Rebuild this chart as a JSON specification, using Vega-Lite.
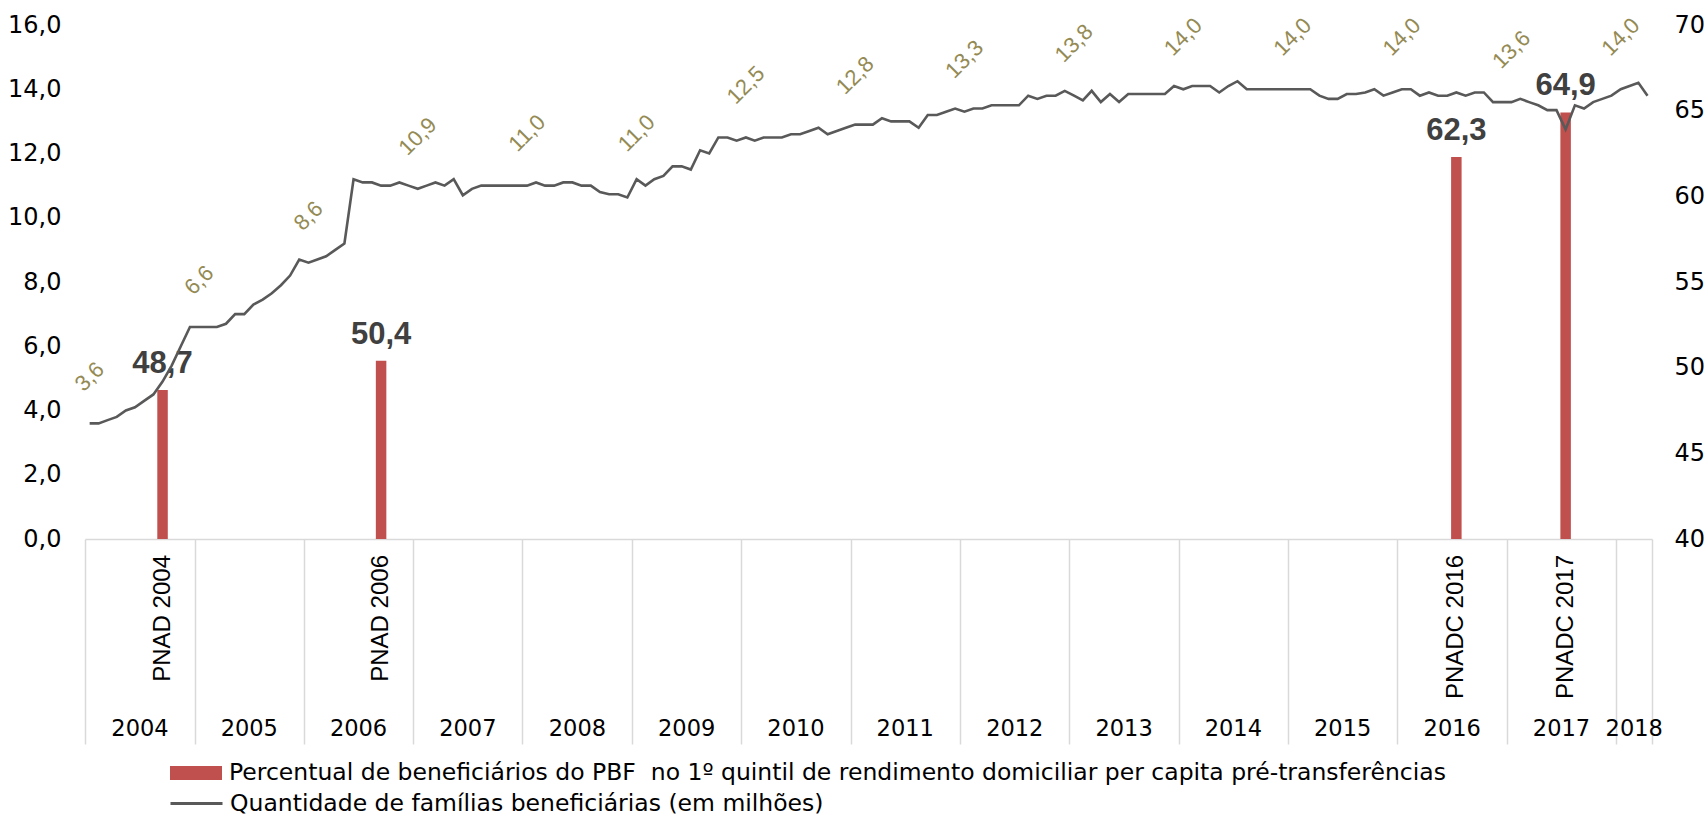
{
  "$schema": "https://vega.github.io/schema/vega-lite/v6.json",
  "width": 1567,
  "height": 514,
  "autosize": {"type": "none"},
  "padding": {"left": 85, "top": 25, "right": 56, "bottom": 278},
  "background": "white",
  "config": {
    "view": {"stroke": null},
    "font": "DejaVu Sans",
    "locale": {"number": {"decimal": ",", "thousands": ".", "grouping": [3], "currency": ["R$", ""]}},
    "axis": {"labelFont": "DejaVu Sans", "labelFontSize": 24, "labelColor": "#000000", "grid": false, "title": null},
    "legend": {"labelFont": "DejaVu Sans", "labelFontSize": 23.5, "labelColor": "#000000", "labelLimit": 2000, "padding": 0, "title": null}
  },
  "datasets": {
    "familias": [
      {"mes":"2004-01","fam":3.6},{"mes":"2004-02","fam":3.6},{"mes":"2004-03","fam":3.7},{"mes":"2004-04","fam":3.8},{"mes":"2004-05","fam":4.0},{"mes":"2004-06","fam":4.1},{"mes":"2004-07","fam":4.3},{"mes":"2004-08","fam":4.5},{"mes":"2004-09","fam":4.9},{"mes":"2004-10","fam":5.4},{"mes":"2004-11","fam":6.0},{"mes":"2004-12","fam":6.6},
      {"mes":"2005-01","fam":6.6},{"mes":"2005-02","fam":6.6},{"mes":"2005-03","fam":6.6},{"mes":"2005-04","fam":6.7},{"mes":"2005-05","fam":7.0},{"mes":"2005-06","fam":7.0},{"mes":"2005-07","fam":7.3},{"mes":"2005-08","fam":7.45},{"mes":"2005-09","fam":7.65},{"mes":"2005-10","fam":7.9},{"mes":"2005-11","fam":8.2},{"mes":"2005-12","fam":8.7},
      {"mes":"2006-01","fam":8.6},{"mes":"2006-02","fam":8.7},{"mes":"2006-03","fam":8.8},{"mes":"2006-04","fam":9.0},{"mes":"2006-05","fam":9.2},{"mes":"2006-06","fam":11.2},{"mes":"2006-07","fam":11.1},{"mes":"2006-08","fam":11.1},{"mes":"2006-09","fam":11.0},{"mes":"2006-10","fam":11.0},{"mes":"2006-11","fam":11.1},{"mes":"2006-12","fam":11.0},
      {"mes":"2007-01","fam":10.9},{"mes":"2007-02","fam":11.0},{"mes":"2007-03","fam":11.1},{"mes":"2007-04","fam":11.0},{"mes":"2007-05","fam":11.2},{"mes":"2007-06","fam":10.7},{"mes":"2007-07","fam":10.9},{"mes":"2007-08","fam":11.0},{"mes":"2007-09","fam":11.0},{"mes":"2007-10","fam":11.0},{"mes":"2007-11","fam":11.0},{"mes":"2007-12","fam":11.0},
      {"mes":"2008-01","fam":11.0},{"mes":"2008-02","fam":11.1},{"mes":"2008-03","fam":11.0},{"mes":"2008-04","fam":11.0},{"mes":"2008-05","fam":11.1},{"mes":"2008-06","fam":11.1},{"mes":"2008-07","fam":11.0},{"mes":"2008-08","fam":11.0},{"mes":"2008-09","fam":10.8},{"mes":"2008-10","fam":10.73},{"mes":"2008-11","fam":10.73},{"mes":"2008-12","fam":10.63},
      {"mes":"2009-01","fam":11.2},{"mes":"2009-02","fam":11.0},{"mes":"2009-03","fam":11.2},{"mes":"2009-04","fam":11.3},{"mes":"2009-05","fam":11.6},{"mes":"2009-06","fam":11.6},{"mes":"2009-07","fam":11.5},{"mes":"2009-08","fam":12.1},{"mes":"2009-09","fam":12.0},{"mes":"2009-10","fam":12.5},{"mes":"2009-11","fam":12.5},{"mes":"2009-12","fam":12.4},
      {"mes":"2010-01","fam":12.5},{"mes":"2010-02","fam":12.4},{"mes":"2010-03","fam":12.5},{"mes":"2010-04","fam":12.5},{"mes":"2010-05","fam":12.5},{"mes":"2010-06","fam":12.6},{"mes":"2010-07","fam":12.6},{"mes":"2010-08","fam":12.7},{"mes":"2010-09","fam":12.8},{"mes":"2010-10","fam":12.6},{"mes":"2010-11","fam":12.7},{"mes":"2010-12","fam":12.8},
      {"mes":"2011-01","fam":12.9},{"mes":"2011-02","fam":12.9},{"mes":"2011-03","fam":12.9},{"mes":"2011-04","fam":13.1},{"mes":"2011-05","fam":13.0},{"mes":"2011-06","fam":13.0},{"mes":"2011-07","fam":13.0},{"mes":"2011-08","fam":12.8},{"mes":"2011-09","fam":13.2},{"mes":"2011-10","fam":13.2},{"mes":"2011-11","fam":13.3},{"mes":"2011-12","fam":13.4},
      {"mes":"2012-01","fam":13.3},{"mes":"2012-02","fam":13.4},{"mes":"2012-03","fam":13.4},{"mes":"2012-04","fam":13.5},{"mes":"2012-05","fam":13.5},{"mes":"2012-06","fam":13.5},{"mes":"2012-07","fam":13.5},{"mes":"2012-08","fam":13.8},{"mes":"2012-09","fam":13.7},{"mes":"2012-10","fam":13.8},{"mes":"2012-11","fam":13.8},{"mes":"2012-12","fam":13.95},
      {"mes":"2013-01","fam":13.8},{"mes":"2013-02","fam":13.65},{"mes":"2013-03","fam":13.95},{"mes":"2013-04","fam":13.6},{"mes":"2013-05","fam":13.85},{"mes":"2013-06","fam":13.6},{"mes":"2013-07","fam":13.85},{"mes":"2013-08","fam":13.85},{"mes":"2013-09","fam":13.85},{"mes":"2013-10","fam":13.85},{"mes":"2013-11","fam":13.85},{"mes":"2013-12","fam":14.1},
      {"mes":"2014-01","fam":14.0},{"mes":"2014-02","fam":14.1},{"mes":"2014-03","fam":14.1},{"mes":"2014-04","fam":14.1},{"mes":"2014-05","fam":13.9},{"mes":"2014-06","fam":14.1},{"mes":"2014-07","fam":14.25},{"mes":"2014-08","fam":14.0},{"mes":"2014-09","fam":14.0},{"mes":"2014-10","fam":14.0},{"mes":"2014-11","fam":14.0},{"mes":"2014-12","fam":14.0},
      {"mes":"2015-01","fam":14.0},{"mes":"2015-02","fam":14.0},{"mes":"2015-03","fam":14.0},{"mes":"2015-04","fam":13.8},{"mes":"2015-05","fam":13.7},{"mes":"2015-06","fam":13.7},{"mes":"2015-07","fam":13.85},{"mes":"2015-08","fam":13.85},{"mes":"2015-09","fam":13.9},{"mes":"2015-10","fam":14.0},{"mes":"2015-11","fam":13.8},{"mes":"2015-12","fam":13.9},
      {"mes":"2016-01","fam":14.0},{"mes":"2016-02","fam":14.0},{"mes":"2016-03","fam":13.8},{"mes":"2016-04","fam":13.9},{"mes":"2016-05","fam":13.8},{"mes":"2016-06","fam":13.8},{"mes":"2016-07","fam":13.9},{"mes":"2016-08","fam":13.8},{"mes":"2016-09","fam":13.9},{"mes":"2016-10","fam":13.9},{"mes":"2016-11","fam":13.6},{"mes":"2016-12","fam":13.6},
      {"mes":"2017-01","fam":13.6},{"mes":"2017-02","fam":13.7},{"mes":"2017-03","fam":13.6},{"mes":"2017-04","fam":13.5},{"mes":"2017-05","fam":13.35},{"mes":"2017-06","fam":13.35},{"mes":"2017-07","fam":12.75},{"mes":"2017-08","fam":13.5},{"mes":"2017-09","fam":13.4},{"mes":"2017-10","fam":13.6},{"mes":"2017-11","fam":13.7},{"mes":"2017-12","fam":13.8},
      {"mes":"2018-01","fam":14.0},{"mes":"2018-02","fam":14.1},{"mes":"2018-03","fam":14.2},{"mes":"2018-04","fam":13.8}
    ],
    "pnad": [
      {"mes":"2004-09","pct":48.7,"pesquisa":"PNAD 2004"},
      {"mes":"2006-09","pct":50.4,"pesquisa":"PNAD 2006"},
      {"mes":"2016-07","pct":62.3,"pesquisa":"PNADC 2016"},
      {"mes":"2017-07","pct":64.9,"pesquisa":"PNADC 2017"}
    ],
    "anos": [
      {"mes":"2004-01","v":3.6},{"mes":"2005-01","v":6.6},{"mes":"2006-01","v":8.6},{"mes":"2007-01","v":10.9},{"mes":"2008-01","v":11.0},
      {"mes":"2009-01","v":11.0},{"mes":"2010-01","v":12.5},{"mes":"2011-01","v":12.8},{"mes":"2012-01","v":13.3},{"mes":"2013-01","v":13.8},
      {"mes":"2014-01","v":14.0},{"mes":"2015-01","v":14.0},{"mes":"2016-01","v":14.0},{"mes":"2017-01","v":13.6},{"mes":"2018-01","v":14.0}
    ]
  },
  "layer": [
    {
      "data": {"name": "pnad"},
      "encoding": {
        "x": {
          "field": "mes", "timeUnit": "utcyearmonth", "type": "temporal", "bandPosition": 0.5,
          "scale": {"type": "utc", "nice": false, "domain": [{"year":2004,"month":1,"date":1,"utc":true},{"year":2018,"month":5,"date":1,"utc":true}]},
          "axis": {
            "orient": "bottom",
            "values": [
              {"year":2004,"month":1,"date":1,"utc":true},{"year":2005,"month":1,"date":1,"utc":true},{"year":2006,"month":1,"date":1,"utc":true},
              {"year":2007,"month":1,"date":1,"utc":true},{"year":2008,"month":1,"date":1,"utc":true},{"year":2009,"month":1,"date":1,"utc":true},
              {"year":2010,"month":1,"date":1,"utc":true},{"year":2011,"month":1,"date":1,"utc":true},{"year":2012,"month":1,"date":1,"utc":true},
              {"year":2013,"month":1,"date":1,"utc":true},{"year":2014,"month":1,"date":1,"utc":true},{"year":2015,"month":1,"date":1,"utc":true},
              {"year":2016,"month":1,"date":1,"utc":true},{"year":2017,"month":1,"date":1,"utc":true},{"year":2018,"month":1,"date":1,"utc":true},
              {"year":2018,"month":5,"date":1,"utc":true}
            ],
            "labels": false, "ticks": true, "tickSize": 205, "tickColor": "#d9d9d9", "tickWidth": 1.5,
            "domain": true, "domainColor": "#d9d9d9", "domainWidth": 1.5, "title": null
          }
        },
        "y": {
          "field": "pct", "type": "quantitative",
          "scale": {"domain": [40, 70], "zero": false, "nice": false},
          "axis": {"orient": "right", "values": [40,45,50,55,60,65,70], "format": "d", "domain": false, "ticks": false, "tickSize": 0, "labelPadding": 22, "title": null}
        }
      },
      "layer": [
        {
          "mark": {"type": "bar", "width": 10.5},
          "encoding": {
            "y2": {"datum": 40},
            "fill": {
              "datum": "Percentual de beneficiários do PBF \u00a0no 1º quintil de rendimento domiciliar per capita pré-transferências",
              "type": "nominal",
              "scale": {"range": ["#C0504D"]},
              "legend": {"orient": "none", "legendX": 84, "legendY": 721, "symbolType": "M-1,-0.27H1V0.27H-1Z", "symbolSize": 2704, "symbolOpacity": 1, "labelOffset": 6}
            }
          }
        },
        {
          "mark": {"type": "text", "baseline": "alphabetic", "align": "center", "dy": -17, "fontSize": 31, "fontWeight": "bold", "color": "#404040", "font": "Liberation Sans"},
          "encoding": {"text": {"field": "pct", "type": "quantitative", "format": ".1f"}}
        },
        {
          "mark": {"type": "text", "angle": 270, "align": "right", "baseline": "middle", "dx": -16, "fontSize": 24, "color": "#000000", "font": "Liberation Sans"},
          "encoding": {"y": {"datum": 40}, "text": {"field": "pesquisa", "type": "nominal"}}
        }
      ]
    },
    {
      "encoding": {
        "x": {
          "field": "mes", "timeUnit": "utcyearmonth", "type": "temporal", "bandPosition": 0.5,
          "scale": {"type": "utc", "nice": false, "domain": [{"year":2004,"month":1,"date":1,"utc":true},{"year":2018,"month":5,"date":1,"utc":true}]},
          "axis": {
            "orient": "bottom",
            "values": [
              {"year":2004,"month":7,"date":1,"utc":true},{"year":2005,"month":7,"date":1,"utc":true},{"year":2006,"month":7,"date":1,"utc":true},
              {"year":2007,"month":7,"date":1,"utc":true},{"year":2008,"month":7,"date":1,"utc":true},{"year":2009,"month":7,"date":1,"utc":true},
              {"year":2010,"month":7,"date":1,"utc":true},{"year":2011,"month":7,"date":1,"utc":true},{"year":2012,"month":7,"date":1,"utc":true},
              {"year":2013,"month":7,"date":1,"utc":true},{"year":2014,"month":7,"date":1,"utc":true},{"year":2015,"month":7,"date":1,"utc":true},
              {"year":2016,"month":7,"date":1,"utc":true},{"year":2017,"month":7,"date":1,"utc":true},{"year":2018,"month":3,"date":1,"utc":true}
            ],
            "labelExpr": "utcFormat(datum.value, '%Y')",
            "labelFontSize": 22.5,
            "ticks": false, "domain": false, "labelPadding": 178, "labelFlush": false, "labelOverlap": false, "title": null
          }
        }
      },
      "layer": [
        {
          "data": {"name": "familias"},
          "mark": {"type": "line", "strokeWidth": 2.6},
          "encoding": {
            "y": {
              "field": "fam", "type": "quantitative",
              "scale": {"domain": [0, 16], "nice": false},
              "axis": {"orient": "left", "values": [0,2,4,6,8,10,12,14,16], "format": ".1f", "domain": false, "ticks": false, "tickSize": 0, "labelPadding": 24, "title": null}
            },
            "stroke": {
              "datum": "Quantidade de famílias beneficiárias (em milhões)",
              "type": "nominal",
              "scale": {"range": ["#595959"]},
              "legend": {"orient": "none", "legendX": 84, "legendY": 751, "symbolType": "stroke", "symbolSize": 2704, "symbolStrokeWidth": 3, "labelOffset": 6}
            }
          }
        },
        {
          "data": {"name": "anos"},
          "transform": [{"filter": "datum.v < 10"}],
          "mark": {"type": "text", "angle": 315, "align": "center", "baseline": "middle", "dx": 33, "dy": -33, "fontSize": 22, "color": "#948A54", "font": "Liberation Sans"},
          "encoding": {
            "y": {"field": "v", "type": "quantitative"},
            "text": {"field": "v", "type": "quantitative", "format": ".1f"}
          }
        },
        {
          "data": {"name": "anos"},
          "transform": [{"filter": "datum.v >= 10"}],
          "mark": {"type": "text", "angle": 315, "align": "center", "baseline": "middle", "dx": 37, "dy": -37, "fontSize": 22, "color": "#948A54", "font": "Liberation Sans"},
          "encoding": {
            "y": {"field": "v", "type": "quantitative"},
            "text": {"field": "v", "type": "quantitative", "format": ".1f"}
          }
        }
      ]
    }
  ],
  "resolve": {"scale": {"y": "independent"}, "axis": {"x": "independent"}}
}
